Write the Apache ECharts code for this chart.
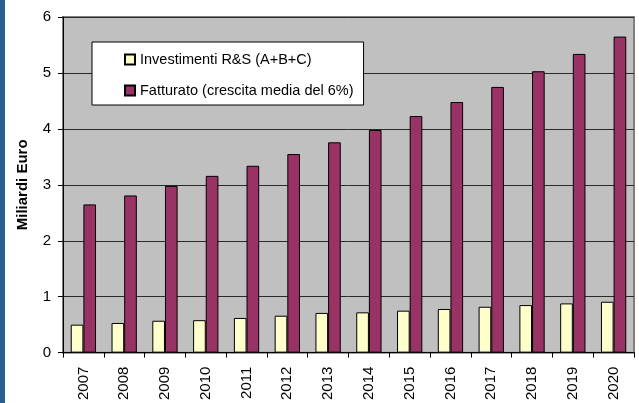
<!DOCTYPE html>
<html><head><meta charset="utf-8">
<script src="https://cdn.jsdelivr.net/npm/echarts@6/dist/echarts.min.js"></script>
<style>html,body{margin:0;padding:0;background:#fff}#c{width:639px;height:403px}</style>
</head><body><div id="c"></div>
<script>
var years = ['2007','2008','2009','2010','2011','2012','2013','2014','2015','2016','2017','2018','2019','2020'];
var investimenti = [0.50, 0.53, 0.57, 0.58, 0.62, 0.66, 0.71, 0.72, 0.75, 0.78, 0.82, 0.85, 0.88, 0.91];
var fatturato = [2.65, 2.81, 2.98, 3.16, 3.34, 3.55, 3.76, 3.98, 4.23, 4.48, 4.75, 5.03, 5.34, 5.65];
var yTicks = [0, 1, 2, 3, 4, 5, 6];
var seriesNames = ['Investimenti R&S (A+B+C)', 'Fatturato (crescita media del 6%)'];
var yName = 'Miliardi Euro';

var chart = echarts.init(document.getElementById('c'));
var F = 'Liberation Sans, Arial, sans-serif';
chart.setOption({
  animation: false,
  backgroundColor: '#fff',
  graphic: [{type:'rect', shape:{x:0,y:0,width:5,height:403}, style:{fill:'#275E8F'}}],
  grid: {left: 63, top: 17, right: 5, bottom: 50, show: true, backgroundColor: '#C0C0C0', borderColor: '#808080', borderWidth: 2},
  legend: {
    orient: 'vertical', left: 92, top: 42, icon: 'rect',
    backgroundColor: '#fff', borderColor: '#000', borderWidth: 1,
    padding: [10, 10, 7, 32], itemGap: 16, itemWidth: 10, itemHeight: 10,
    textStyle: {fontFamily: F, fontSize: 14.5, color: '#000', lineHeight: 14},
    data: seriesNames
  },
  xAxis: {
    type: 'category', data: years,
    axisLine: {lineStyle: {color: '#000', width: 1}},
    axisTick: {show: true, length: 5, lineStyle: {color: '#000'}},
    axisLabel: {rotate: 90, fontFamily: F, fontSize: 15, color: '#000', margin: 14}
  },
  yAxis: {
    type: 'value', min: yTicks[0], max: yTicks[yTicks.length-1], interval: 1,
    name: yName, nameLocation: 'middle', nameGap: 33,
    nameTextStyle: {fontFamily: F, fontSize: 15, fontWeight: 'bold', color: '#000'},
    axisLine: {show: true, lineStyle: {color: '#000', width: 1}},
    axisTick: {show: true, length: 5, lineStyle: {color: '#000'}},
    axisLabel: {fontFamily: F, fontSize: 15, color: '#000', margin: 12},
    splitLine: {lineStyle: {color: '#2a2a2a', width: 1}}
  },
  series: [
    {name: seriesNames[0], type: 'bar', data: investimenti, barGap: '0%', barCategoryGap: '38%',
     itemStyle: {color: '#FFFFCC', borderColor: '#000', borderWidth: 1}},
    {name: seriesNames[1], type: 'bar', data: fatturato, barGap: '0%', barCategoryGap: '38%',
     itemStyle: {color: '#993366', borderColor: '#000', borderWidth: 1}}
  ]
});
</script></body></html>
